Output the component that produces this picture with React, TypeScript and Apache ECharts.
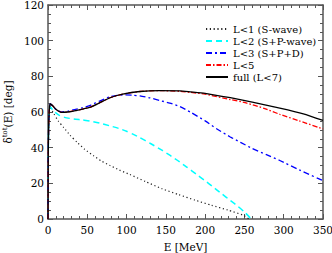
import React, { useEffect, useRef } from "react";
import * as echarts from "echarts";

const xTicks = [0, 50, 100, 150, 200, 250, 300, 350];
const yTicks = [0, 20, 40, 60, 80, 100, 120];

const seriesNames = ["L<1 (S-wave)", "L<2 (S+P-wave)", "L<3 (S+P+D)", "L<5", "full (L<7)"];

const sE = [0, 0.3, 1, 2, 3, 5.5, 7.5, 13, 20, 28, 37, 47, 58, 68, 79, 91, 104, 124, 145, 166, 187, 208, 229, 248, 256];
const sD = [0, 35, 55, 61, 62, 60.5, 59, 55, 51.3, 47, 43, 39, 35.5, 32.5, 30, 27.4, 25, 21, 17, 13.7, 10.6, 7.7, 5, 2.2, 0];

const spE = [0, 0.3, 1, 2, 3, 6, 10, 15, 21, 28, 35, 44, 53, 66, 79, 90, 100, 108, 117, 131, 146, 155, 165, 177, 189, 200, 210, 221, 232, 242, 251, 258];
const spD = [0, 35, 55, 62, 63, 61, 59.5, 58, 57, 56.4, 56, 55.5, 55, 53.8, 52.2, 50.8, 49.2, 47.6, 45.6, 42.2, 38.3, 35.8, 32.8, 29, 25, 21.4, 18, 14.2, 10.4, 7, 3.5, 0.3];

const spdE = [0, 0.3, 1, 2, 3, 6, 10, 17, 25, 35, 44, 53, 65, 79, 88, 98, 108, 117, 130, 142, 155, 168, 181, 200, 215, 232, 245, 260, 278, 295, 320, 350];
const spdD = [0, 35, 55, 63, 64.5, 63.5, 61.5, 60, 60.4, 61.5, 62.4, 63.6, 66, 68.5, 69.3, 69.6, 69.4, 69, 67.9, 66.5, 65, 63, 60, 55, 50.5, 46, 43, 39.5, 36.1, 32.8, 27.5, 21.5];

const l5E = [0, 0.3, 1, 2, 3, 6, 10, 17, 25, 35, 53, 65, 79, 95, 117, 142, 168, 181, 200, 232, 253, 275, 295, 320, 350];
const l5D = [0, 35, 55, 63, 64.5, 63.5, 61.5, 59.8, 60, 60.8, 62.6, 65, 68, 70, 71.5, 72, 71.6, 71, 70, 67, 65, 62, 58.7, 55, 50.5];

const fullE = [0, 0.3, 1, 2, 3, 6, 10, 17, 25, 35, 53, 65, 79, 95, 117, 142, 168, 181, 200, 232, 260, 295, 325, 350];
const fullD = [0, 35, 55, 63, 64.5, 63.5, 61.5, 59.8, 60, 60.8, 62.6, 65, 68, 70, 71.5, 72, 71.8, 71.3, 70.5, 68, 65.5, 62.2, 59, 55.3];

const zip = (a: number[], b: number[]) => a.map((v, i) => [v, b[i]]);

const FONT = "DejaVu Serif";
const FS = 10.5;
const AXIS_COLOR = "#555";

export default function App() {
  const ref = useRef<HTMLDivElement>(null);
  useEffect(() => {
    if (!ref.current) return;
    const chart = echarts.init(ref.current, undefined, { renderer: "svg" });
    const baseX = (pos: "bottom" | "top", show: boolean) => ({
      type: "value" as const,
      position: pos,
      min: xTicks[0],
      max: xTicks[xTicks.length - 1],
      interval: 50,
      axisLine: { show: true, onZero: false, lineStyle: { color: AXIS_COLOR, width: 1.5 } },
      axisTick: { show: true, inside: true, length: 5, lineStyle: { color: AXIS_COLOR, width: 1 } },
      minorTick: { show: true, splitNumber: 5, length: 3, lineStyle: { color: AXIS_COLOR, width: 1 } },
      splitLine: { show: false },
      axisLabel: { show, color: "#000", fontFamily: FONT, fontSize: FS, margin: 5 },
      name: show ? "E [MeV]" : "",
      nameLocation: "middle" as const,
      nameGap: 22,
      nameTextStyle: { color: "#000", fontFamily: FONT, fontSize: FS },
    });
    const baseY = (pos: "left" | "right", show: boolean) => ({
      type: "value" as const,
      position: pos,
      min: yTicks[0],
      max: yTicks[yTicks.length - 1],
      interval: 20,
      axisLine: { show: true, onZero: false, lineStyle: { color: AXIS_COLOR, width: 1.5 } },
      axisTick: { show: true, inside: true, length: 5, lineStyle: { color: AXIS_COLOR, width: 1 } },
      minorTick: { show: true, splitNumber: 4, length: 3, lineStyle: { color: AXIS_COLOR, width: 1 } },
      splitLine: { show: false },
      axisLabel: { show, color: "#000", fontFamily: FONT, fontSize: FS, margin: 4 },
      name: show ? "{d|δ}{s|tot}{d|(E) [deg]}" : "",
      nameLocation: "middle" as const,
      nameGap: 29,
      nameRotate: 90,
      nameTextStyle: {
        color: "#000",
        fontFamily: FONT,
        fontSize: FS,
        rich: {
          d: { fontFamily: FONT, fontSize: FS, color: "#000" },
          s: { fontFamily: FONT, fontSize: 7, color: "#000", verticalAlign: "top", padding: [0, 0, 6, 0] },
        },
      },
    });
    const line = (name: string, data: number[][], color: string, type: any, width: number) => ({
      type: "line" as const,
      name,
      data,
      showSymbol: false,
      symbol: "none",
      smooth: 0.2,
      xAxisIndex: 0,
      yAxisIndex: 0,
      lineStyle: { color, type, width },
      itemStyle: { color },
    });
    chart.setOption({
      animation: false,
      backgroundColor: "#fff",
      grid: { left: 48, right: 9, top: 5, bottom: 34, containLabel: false, outerBoundsMode: "none" },
      xAxis: [baseX("bottom", true), baseX("top", false)],
      yAxis: [baseY("left", true), baseY("right", false)],
      legend: {
        orient: "vertical",
        left: 200,
        top: 18,
        itemWidth: 22,
        itemHeight: 10,
        itemGap: 0,
        itemStyle: { color: "transparent", borderColor: "transparent", borderWidth: 0, opacity: 0 },
        textStyle: { color: "#000", fontFamily: FONT, fontSize: 10, lineHeight: 12 },
        data: seriesNames,
      },
      series: [
        line(seriesNames[0], zip(sE, sD), "#222", [1.2, 2.6], 1.2),
        line(seriesNames[1], zip(spE, spD), "#00ffff", [6, 4], 1.5),
        line(seriesNames[2], zip(spdE, spdD), "#0000ff", [6, 3, 2, 3], 1.3),
        line(seriesNames[3], zip(l5E, l5D), "#ff0000", [5, 2, 1.5, 2], 1.3),
        line(seriesNames[4], zip(fullE, fullD), "#000", "solid", 1.3),
      ],
    });
    return () => chart.dispose();
  }, []);
  return <div ref={ref} style={{ position: "fixed", left: 0, top: 0, width: 332, height: 253 }} />;
}
